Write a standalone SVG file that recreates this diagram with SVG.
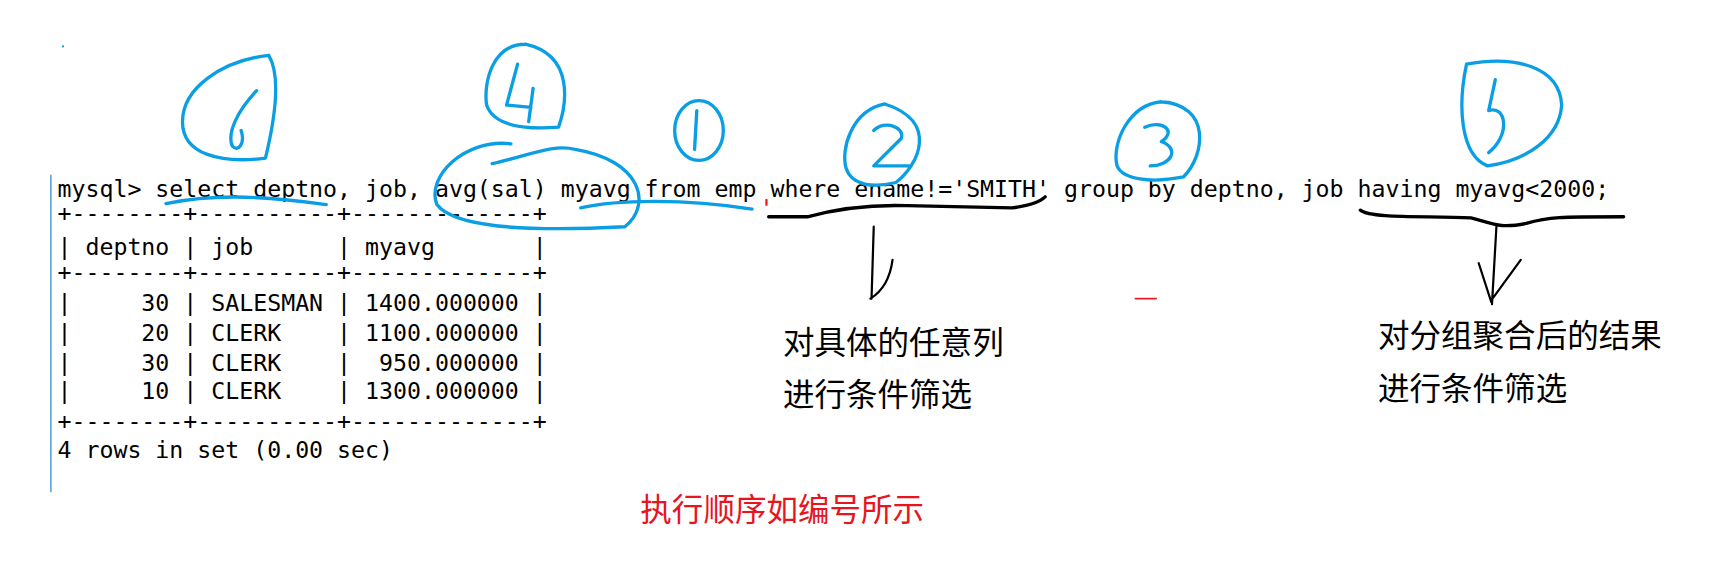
<svg xmlns="http://www.w3.org/2000/svg" width="1734" height="562" viewBox="0 0 1734 562">
<style>
.m{font-family:"DejaVu Sans Mono","Liberation Mono",monospace;font-size:21px;fill:#000;white-space:pre}
.c{font-family:"Noto Sans CJK SC","Noto Sans",sans-serif;font-size:28.5px;fill:#000}
.r{font-family:"Noto Sans CJK SC","Noto Sans",sans-serif;font-size:28.5px;fill:#e8141e}
.b{fill:none;stroke:#0a9ee4;stroke-width:3;stroke-linecap:round;stroke-linejoin:round}
.k{fill:none;stroke:#000;stroke-width:3;stroke-linecap:round;stroke-linejoin:round}
.kt{fill:none;stroke:#000;stroke-width:2;stroke-linecap:round}
</style>
<rect width="1734" height="562" fill="#fff"/>
<g transform="scale(1.106)">
<g id="terminal">
<line x1="46" y1="158" x2="46" y2="445" stroke="#5aa8e0" stroke-width="1.5"/>
<circle cx="57" cy="42" r="1" fill="#0a9ee4"/>
<text class="m" x="52" y="178" xml:space="preserve">mysql&gt; select deptno, job, avg(sal) myavg from emp where ename!='SMITH' group by deptno, job having myavg&lt;2000;</text>
<text class="m" x="52" y="200" xml:space="preserve">+--------+----------+-------------+</text>
<text class="m" x="52" y="231" xml:space="preserve">| deptno | job      | myavg       |</text>
<text class="m" x="52" y="253" xml:space="preserve">+--------+----------+-------------+</text>
<text class="m" x="52" y="281" xml:space="preserve">|     30 | SALESMAN | 1400.000000 |</text>
<text class="m" x="52" y="308" xml:space="preserve">|     20 | CLERK    | 1100.000000 |</text>
<text class="m" x="52" y="335" xml:space="preserve">|     30 | CLERK    |  950.000000 |</text>
<text class="m" x="52" y="361" xml:space="preserve">|     10 | CLERK    | 1300.000000 |</text>
<text class="m" x="52" y="388" xml:space="preserve">+--------+----------+-------------+</text>
<text class="m" x="52" y="414" xml:space="preserve">4 rows in set (0.00 sec)</text>
</g>
<g id="n6"><path class="b" d="M243,50 C200,55 165,80 165,110 C165,140 200,148 240,143 C248,110 255,70 243,50"/><path class="b" d="M232,82 C215,100 205,120 210,132 C215,138 222,130 218,118"/></g>
<g id="n4"><path class="b" d="M475,40 C445,40 437,75 440,95 C445,110 465,118 505,115 C512,95 520,50 475,40"/><path class="b" d="M468,58 L458,95 L480,97 M482,80 L478,110"/></g>
<g id="n1"><ellipse class="b" cx="632" cy="118" rx="22" ry="27"/><path class="b" d="M630,100 L628,135"/></g>
<g id="n2"><path class="b" d="M800,94 C770,100 760,135 765,152 C770,168 790,170 810,165 C830,150 850,110 800,94"/><path class="b" d="M790,118 C800,108 818,115 815,125 L790,150 L822,150"/></g>
<g id="n3"><path class="b" d="M1050,92 C1020,95 1005,130 1010,150 C1015,162 1040,166 1070,160 C1090,140 1095,95 1050,92"/><path class="b" d="M1035,115 C1050,108 1065,118 1050,128 C1068,135 1058,150 1040,150"/></g>
<g id="n5"><path class="b" d="M1326,58 C1370,50 1410,60 1412,95 C1410,125 1380,145 1345,150 C1320,140 1318,95 1326,58"/><path class="b" d="M1352,72 L1346,100 C1362,95 1366,122 1346,138"/></g>
<g id="connectors">
<path class="b" d="M462,130 C420,125 385,160 395,185 C410,205 470,210 565,205 C590,185 580,145 520,135 C500,130 480,140 445,148"/>
<path class="b" d="M150,184 C190,176 230,176 295,185"/>
<path class="b" d="M525,188 C560,180 620,180 680,189"/>
<path d="M693,180 L693,186" stroke="#e8141e" stroke-width="2"/>
<path d="M1026,270 L1046,270" stroke="#e8141e" stroke-width="1.5"/>
<path class="k" d="M695,196 L730,196 C760,188 790,185 820,186 L915,188 C930,186 940,183 945,178"/>
<path class="kt" d="M790,205 L788,270 M807,235 C805,250 800,262 787,270"/>
<path class="k" d="M1230,190 C1240,198 1290,195 1330,197 C1350,202 1355,207 1380,202 C1400,196 1410,196 1468,196"/>
<path class="kt" d="M1353,205 L1349,275 M1337,238 L1348,272 L1375,235"/>
</g>
<g id="labels">
<text class="c" x="708" y="320">对具体的任意列</text>
<text class="c" x="708" y="367">进行条件筛选</text>
<text class="c" x="1246" y="314">对分组聚合后的结果</text>
<text class="c" x="1246" y="362">进行条件筛选</text>
<text class="r" x="579" y="471">执行顺序如编号所示</text>
</g>
</g>
</svg>
